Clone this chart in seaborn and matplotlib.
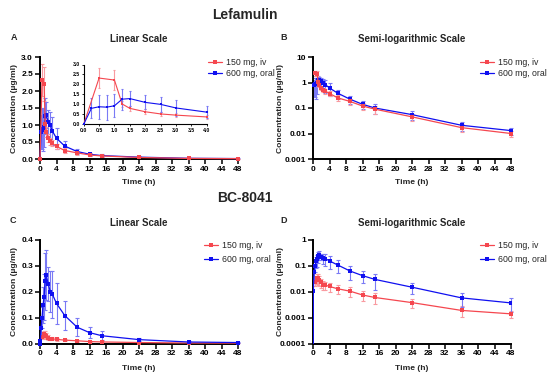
import numpy as np
import pandas as pd
import matplotlib
matplotlib.use("Agg")
import matplotlib.pyplot as plt
import seaborn as sns
from matplotlib.lines import Line2D

# ---------------- data ----------------
lef_iv_t = [0, 0.5, 1, 1.25, 1.5, 2, 2.5, 3, 4, 6, 9, 12, 15, 24, 36, 48]
lef_iv_c = [0, 2.32, 2.22, 1.02, 0.80, 0.63, 0.52, 0.46, 0.37, 0.25, 0.18, 0.12, 0.09, 0.045, 0.017, 0.010]
lef_iv_sd = [0, 0.48, 0.50, 0.15, 0.14, 0.12, 0.10, 0.09, 0.08, 0.06, 0.05, 0.04, 0.03, 0.015, 0.006, 0.003]

lef_po_t = [0, 0.25, 0.5, 0.75, 1, 1.25, 1.5, 2, 2.5, 3, 4, 6, 9, 12, 15, 24, 36, 48]
lef_po_c = [0, 0.80, 0.88, 0.86, 0.93, 1.26, 1.29, 1.10, 1.00, 0.82, 0.61, 0.38, 0.22, 0.14, 0.10, 0.055, 0.021, 0.013]
lef_po_sd = [0, 0.50, 0.60, 0.63, 0.58, 0.52, 0.38, 0.35, 0.37, 0.42, 0.31, 0.15, 0.08, 0.05, 0.04, 0.02, 0.008, 0.004]

bc_iv_t = [0, 0.5, 1, 1.25, 1.5, 2, 2.5, 3, 4, 6, 9, 12, 15, 24, 36, 48]
bc_iv_c = [0, 0.024, 0.035, 0.033, 0.028, 0.023, 0.019, 0.018, 0.016, 0.013, 0.0105, 0.0075, 0.006, 0.0038, 0.0019, 0.0014]
bc_iv_sd = [0, 0.008, 0.015, 0.014, 0.012, 0.009, 0.007, 0.006, 0.006, 0.005, 0.0045, 0.003, 0.0027, 0.0015, 0.0008, 0.0004]

bc_po_t = [0, 0.083, 0.25, 0.5, 0.75, 1, 1.25, 1.5, 2, 2.5, 3, 4, 6, 9, 12, 15, 24, 36, 48]
bc_po_c = [0, 0.011, 0.06, 0.10, 0.15, 0.18, 0.24, 0.265, 0.23, 0.20, 0.19, 0.155, 0.108, 0.063, 0.042, 0.030, 0.015, 0.0058, 0.0037]
bc_po_sd = [0, 0.0, 0.03, 0.04, 0.07, 0.09, 0.11, 0.095, 0.065, 0.08, 0.09, 0.08, 0.057, 0.034, 0.021, 0.018, 0.007, 0.0033, 0.0021]

labels = ["150 mg, iv", "600 mg, oral"]
x_ticks = list(range(0, 49, 4))
lin_ticks_A = [0.0, 0.5, 1.0, 1.5, 2.0, 2.5, 3.0]
lin_ticks_C = [0.0, 0.1, 0.2, 0.3, 0.4]
log_ticks_B = [0.001, 0.01, 0.1, 1, 10]
log_ticks_D = [0.0001, 0.001, 0.01, 0.1, 1]
inset_xticks = [0.0, 0.5, 1.0, 1.5, 2.0, 2.5, 3.0, 3.5, 4.0]
inset_yticks = [0.0, 0.5, 1.0, 1.5, 2.0, 2.5, 3.0]

RED, RED_E = "#F5474F", "#F99AA0"
BLUE, BLUE_E = "#1010F0", "#7A7AF5"

# ---------------- style ----------------
sns.set_theme(style="ticks")
plt.rcParams["font.family"] = ["Liberation Sans", "DejaVu Sans"]
plt.rcParams["font.weight"] = "bold"
plt.rcParams["axes.labelweight"] = "bold"

W, H = 550, 377
fig = plt.figure(figsize=(W / 100, H / 100), dpi=100)


def fx(x):
    return x / W


def fy(y):
    return 1 - y / H


def make_ax(x0, x1, y0, y1):
    return fig.add_axes([fx(x0), fy(y1), fx(x1) - fx(x0), fy(y0) - fy(y1)])


def draw_series(ax, t, c, sd, col, ecol, log, keep_zero=False, tmax=None, ms=2.6, lw=0.9, cap=1.5):
    df = pd.DataFrame({"t": t, "c": c, "sd": sd})
    if tmax is not None:
        df = df[df.t <= tmax]
    if log and not keep_zero:
        df = df[df.c > 0]
    e = df[df.sd > 0]
    ax.errorbar(e.t, e.c, yerr=e.sd, fmt="none", ecolor=ecol, elinewidth=0.8,
                capsize=cap, capthick=0.8, clip_on=False, zorder=2)
    sns.lineplot(data=df, x="t", y="c", color=col, marker="s", markersize=ms,
                 markeredgewidth=0, lw=lw, ax=ax, estimator=None, errorbar=None,
                 clip_on=keep_zero, zorder=3, legend=False)


def style_ax(ax, log, yticks, ylim):
    ax.set_xlim(0, 48)
    ax.set_xticks(x_ticks)
    if log:
        ax.set_yscale("log")
        ax.set_ylim(*ylim)
        ax.set_yticks(yticks)
        ax.set_yticklabels([("%g" % v) for v in yticks])
        ax.minorticks_off()
    else:
        ax.set_ylim(*ylim)
        ax.set_yticks(yticks)
        ax.set_yticklabels([("%.1f" % v) for v in yticks])
    ax.set_xlabel("")
    ax.set_ylabel("")
    sns.despine(ax=ax)
    for s in ["left", "bottom"]:
        ax.spines[s].set_linewidth(1.4)
        ax.spines[s].set_color("black")
    ax.tick_params(axis="both", labelsize=6, width=1.1, length=3.5, pad=1.5, colors="black")
    for lab in ax.get_xticklabels() + ax.get_yticklabels():
        lab.set_fontweight("bold")


def add_legend(ax, xh, ytop, spacing):
    hs = [Line2D([], [], color=RED, marker="s", markersize=2.6, markeredgewidth=0, lw=0.9),
          Line2D([], [], color=BLUE, marker="s", markersize=2.6, markeredgewidth=0, lw=0.9)]
    ax.legend(hs, labels, loc="upper left", bbox_to_anchor=(fx(xh), fy(ytop)),
              bbox_transform=fig.transFigure, frameon=False, borderpad=0, borderaxespad=0,
              handlelength=1.6, handletextpad=0.5, labelspacing=spacing,
              prop={"size": 6.3, "weight": "normal"})


# ---------------- panels ----------------
axA = make_ax(40, 238, 57, 159)
axB = make_ax(313, 511, 57, 159)
axC = make_ax(40, 238, 240, 343.5)
axD = make_ax(313, 511, 240, 343.5)

# A
draw_series(axA, lef_po_t, lef_po_c, lef_po_sd, BLUE, BLUE_E, False)
draw_series(axA, lef_iv_t, lef_iv_c, lef_iv_sd, RED, RED_E, False)
style_ax(axA, False, lin_ticks_A, (0, 3.0))
add_legend(axA, 208, 58, 0.25)

# inset
axI = make_ax(83.7, 206.7, 64.5, 124.3)
draw_series(axI, lef_iv_t, lef_iv_c, lef_iv_sd, RED, RED_E, False, tmax=4, ms=1.8, lw=0.8, cap=1.0)
draw_series(axI, lef_po_t, lef_po_c, lef_po_sd, BLUE, BLUE_E, False, tmax=4, ms=1.8, lw=0.8, cap=1.0)
axI.set_xlim(0, 4)
axI.set_ylim(0, 3)
axI.set_xticks(inset_xticks)
axI.set_xticklabels(["%.1f" % v for v in inset_xticks])
axI.set_yticks(inset_yticks)
axI.set_yticklabels(["%.1f" % v for v in inset_yticks])
axI.set_xlabel("")
axI.set_ylabel("")
sns.despine(ax=axI)
for s in ["left", "bottom"]:
    axI.spines[s].set_linewidth(0.8)
    axI.spines[s].set_color("black")
axI.tick_params(axis="both", labelsize=3.7, width=0.6, length=1.5, pad=1, colors="black")
for lab in axI.get_xticklabels() + axI.get_yticklabels():
    lab.set_fontweight("bold")

# B
draw_series(axB, lef_po_t, lef_po_c, lef_po_sd, BLUE, BLUE_E, True)
draw_series(axB, lef_iv_t, lef_iv_c, lef_iv_sd, RED, RED_E, True)
style_ax(axB, True, log_ticks_B, (0.001, 10))
add_legend(axB, 480, 58, 0.25)

# C
draw_series(axC, bc_iv_t, bc_iv_c, bc_iv_sd, RED, RED_E, False)
draw_series(axC, bc_po_t, bc_po_c, bc_po_sd, BLUE, BLUE_E, False)
style_ax(axC, False, lin_ticks_C, (0, 0.4))
add_legend(axC, 204, 241, 0.6)

# D
draw_series(axD, bc_iv_t, bc_iv_c, bc_iv_sd, RED, RED_E, True)
draw_series(axD, bc_po_t, bc_po_c, bc_po_sd, BLUE, BLUE_E, True, keep_zero=True)
style_ax(axD, True, log_ticks_D, (0.0001, 1))
add_legend(axD, 480, 241, 0.55)

# ---------------- texts ----------------
fig.text(fx(245), fy(15), "Lefamulin", ha="center", va="center", fontsize=10, fontweight="bold")
fig.text(fx(245), fy(198), "BC-8041", ha="center", va="center", fontsize=10, fontweight="bold")
for (x, y, s) in [(139, 39, "Linear Scale"), (412, 39, "Semi-logarithmic Scale"),
                  (139, 223, "Linear Scale"), (412, 223, "Semi-logarithmic Scale")]:
    fig.text(fx(x), fy(y), s, ha="center", va="center", fontsize=7, fontweight="bold")
for (x, y, s) in [(14, 37, "A"), (284, 37, "B"), (13, 221, "C"), (284, 221, "D")]:
    fig.text(fx(x), fy(y), s, ha="center", va="center", fontsize=6.5, fontweight="bold")
for (x, y) in [(15, 108), (281, 108), (15, 292), (281, 292)]:
    fig.text(fx(x), fy(y), "Concentration (µg/ml)", ha="center", va="center",
             rotation=90, fontsize=6.1, fontweight="bold")
for (x, y) in [(139, 183), (412, 183), (139, 368), (412, 368)]:
    fig.text(fx(x), fy(y), "Time (h)", ha="center", va="center", fontsize=6.1, fontweight="bold")

fig.savefig("out.png", dpi=100)
